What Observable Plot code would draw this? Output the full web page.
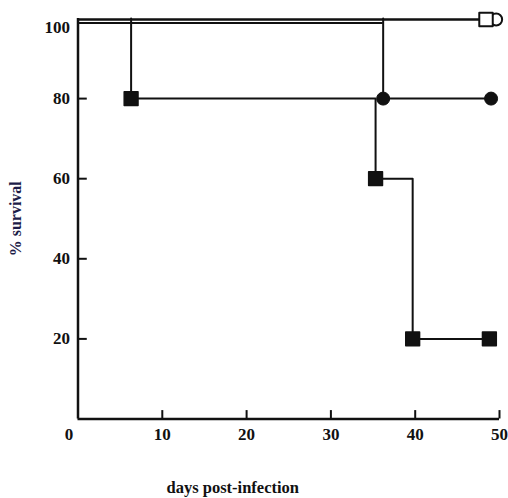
<!DOCTYPE html>
<html>
<head>
<meta charset="utf-8">
<script src="https://cdn.jsdelivr.net/npm/d3@7"></script>
<script src="https://cdn.jsdelivr.net/npm/@observablehq/plot@0.6"></script>
<style>
  html, body { margin: 0; padding: 0; background: #fff; }
  #chart svg { display: block; }
</style>
</head>
<body>
<div id="chart"></div>
<script>
// Data
const xTicks = [0, 10, 20, 30, 40, 50];
const yTicks = [20, 40, 60, 80, 100];

const openSquareDays = [0, 48.4];
const openSquareSurv = [100, 100];
const openCircleDays = [0, 49.6];
const openCircleSurv = [100, 100];
const filledCircleDays = [0, 36.2, 49.0];
const filledCircleSurv = [100, 80, 80];
const filledSquareDays = [0, 6.3, 35.3, 39.7, 48.8];
const filledSquareSurv = [100, 80, 60, 20, 20];

const xLabel = "days post-infection";
const yLabel = "% survival";

const toRows = (days, surv) => days.map((d, i) => ({day: d, pct: surv[i]}));
const openSq = toRows(openSquareDays, openSquareSurv);
const openCi = toRows(openCircleDays, openCircleSurv);
const fillCi = toRows(filledCircleDays, filledCircleSurv);
const fillSq = toRows(filledSquareDays, filledSquareSurv);

// split filled series: top (100%) part drawn slightly lower, rest from the drop
function restOf(rows) {
  const i = rows.findIndex(r => r.pct < 100);
  return [{day: rows[i].day, pct: rows[i - 1].pct}, ...rows.slice(i)];
}
function dropDay(rows) { return rows.find(r => r.pct < 100).day; }

const ink = "#111";
const lw = 2;

const chart = Plot.plot({
  width: 508,
  height: 498,
  marginLeft: 77.5,
  marginRight: 9,
  marginTop: 18,
  marginBottom: 79.5,
  x: {domain: [0, 50], axis: null},
  y: {domain: [0, 100], axis: null},
  style: {fontFamily: "'Liberation Serif', 'DejaVu Serif', serif", fontWeight: "bold", fontSize: "17px", background: "#fff"},
  marks: [
    // axes
    Plot.ruleX([0], {y1: 0, y2: 100, stroke: ink, strokeWidth: 2.5}),
    Plot.ruleY([0], {x1: 0, x2: 50, stroke: ink, strokeWidth: 2.5}),
    Plot.ruleX(xTicks.filter(d => d > 0), {x: d => d, y1: 0, y2: 2.1, stroke: ink, strokeWidth: 2}),
    Plot.ruleY(yTicks.filter(d => d < 100), {y: d => d, x1: 0, x2: 1.1, stroke: ink, strokeWidth: 2}),
    Plot.text(xTicks.filter(d => d > 0), {x: d => d, y: 0, text: d => String(d), dy: 16, lineAnchor: "middle", fill: ink}),
    Plot.text(xTicks.filter(d => d === 0), {x: d => d, y: 0, text: d => String(d), dy: 16, dx: -9, lineAnchor: "middle", fill: ink}),
    Plot.text(yTicks.filter(d => d < 100), {x: 0, y: d => d, text: d => String(d), textAnchor: "end", dx: -8, lineAnchor: "middle", fill: ink}),
    Plot.text(yTicks.filter(d => d === 100), {x: 0, y: d => d, text: d => String(d), textAnchor: "end", dx: -8, dy: 9, lineAnchor: "middle", fill: ink}),
    Plot.text([yLabel], {frameAnchor: "left", textAnchor: "middle", dx: -62, dy: 0, rotate: -90, text: d => d, fontSize: 16, fill: "#1c1c48", lineAnchor: "middle"}),
    Plot.text([xLabel], {frameAnchor: "bottom", textAnchor: "middle", dx: -56, dy: 69, text: d => d, fontSize: 16.5, fill: ink, lineAnchor: "middle"}),

    // survival lines
    Plot.line(openSq, {x: "day", y: "pct", curve: "step-after", stroke: ink, strokeWidth: lw, dy: 1}),
    Plot.line(openCi, {x: "day", y: "pct", curve: "step-after", stroke: ink, strokeWidth: lw, dy: 1}),
    Plot.ruleY([100], {x1: 0, x2: dropDay(fillCi), stroke: ink, strokeWidth: lw, dy: 4.5}),
    Plot.ruleY([100], {x1: 0, x2: dropDay(fillSq), stroke: ink, strokeWidth: lw, dy: 4.5}),
    Plot.line(restOf(fillCi), {x: "day", y: "pct", curve: "step-after", stroke: ink, strokeWidth: lw}),
    Plot.line(restOf(fillSq), {x: "day", y: "pct", curve: "step-after", stroke: ink, strokeWidth: lw}),

    // markers
    Plot.dot(openCi.filter(r => r.day > 0), {x: "day", y: "pct", r: 6, fill: "#fff", stroke: ink, strokeWidth: 2, dy: 1}),
    Plot.dot(openSq.filter(r => r.day > 0), {x: "day", y: "pct", symbol: "square", r: 7.6, fill: "#fff", stroke: ink, strokeWidth: 2, strokeLinejoin: "round", dy: 1}),
    Plot.dot(fillCi.filter(r => r.day > 0), {x: "day", y: "pct", r: 6.5, fill: ink, stroke: ink, strokeWidth: 1}),
    Plot.dot(fillSq.filter(r => r.day > 0), {x: "day", y: "pct", symbol: "square", r: 7.8, fill: ink, stroke: ink, strokeWidth: 1.5, strokeLinejoin: "round"})
  ]
});
document.getElementById("chart").appendChild(chart);
</script>
</body>
</html>
